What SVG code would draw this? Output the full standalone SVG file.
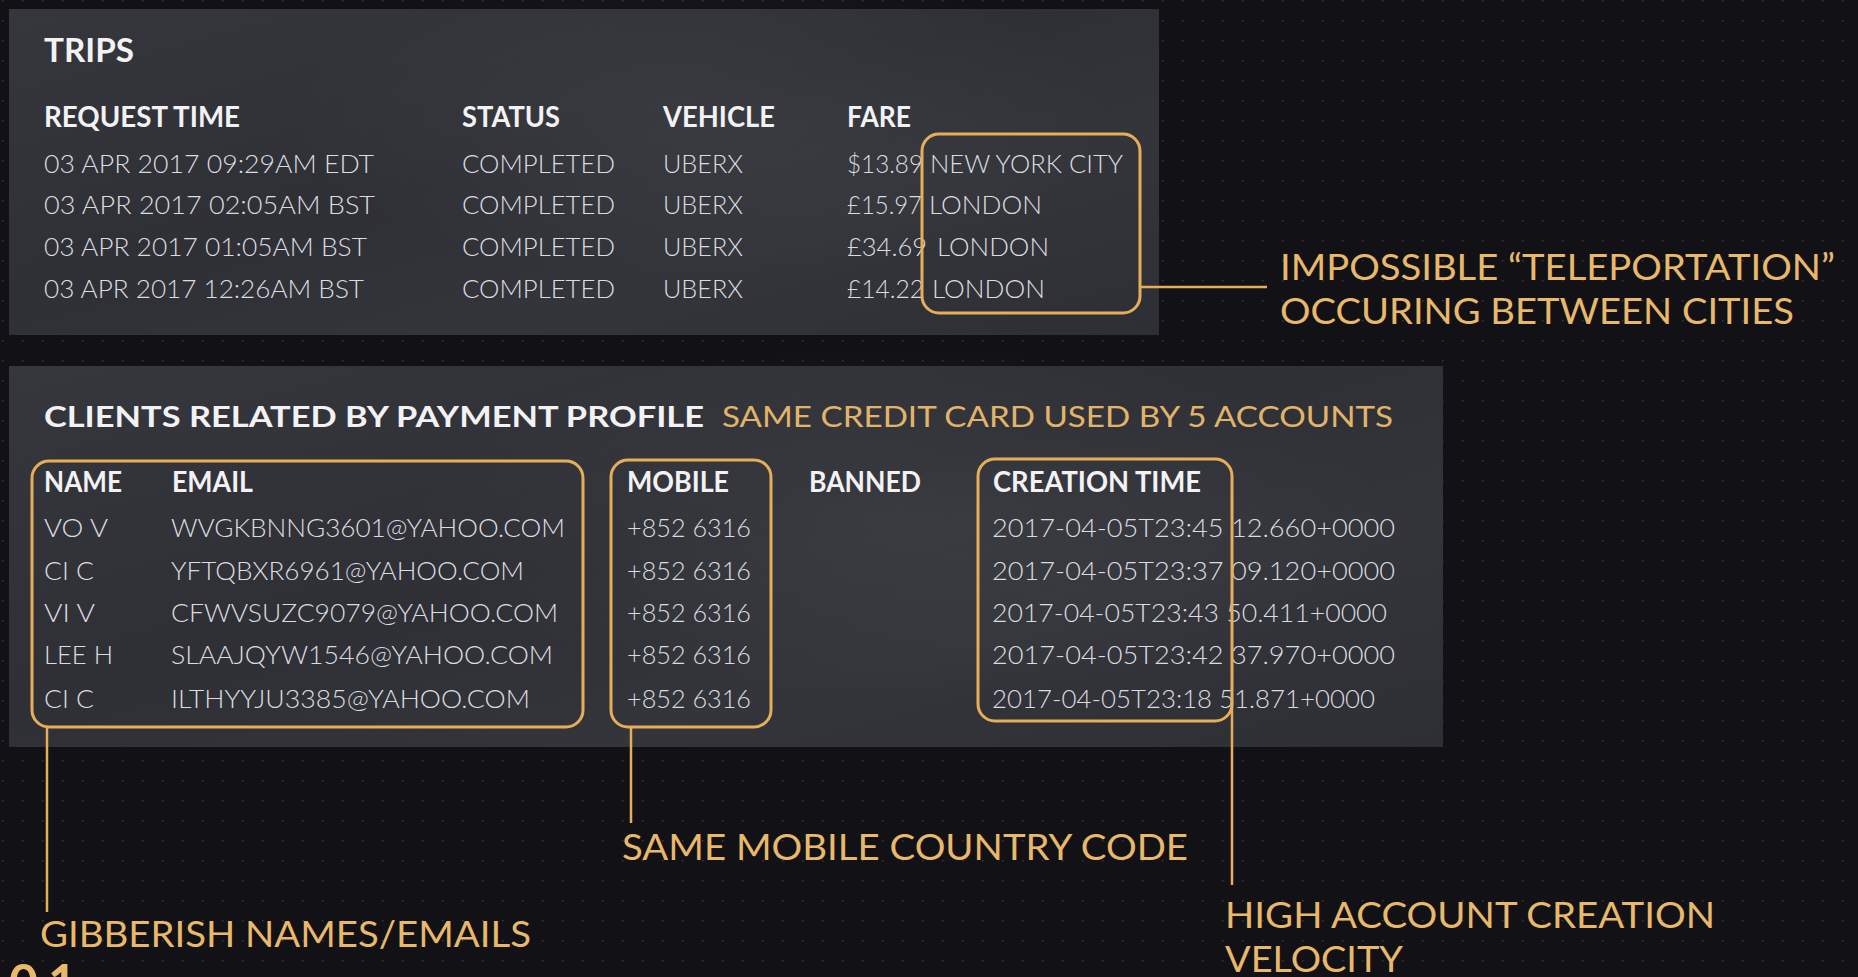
<svg xmlns="http://www.w3.org/2000/svg" width="1858" height="977" viewBox="0 0 1858 977">
<defs>
<pattern id="dots" x="2" y="0" width="20" height="20" patternUnits="userSpaceOnUse">
<rect x="0" y="0" width="1.4" height="1.4" fill="#3a3a44"/>
</pattern>
<linearGradient id="panelGrad" x1="0" y1="0" x2="1" y2="1">
<stop offset="0" stop-color="#36373d"/>
<stop offset="0.45" stop-color="#2f3036"/>
<stop offset="0.7" stop-color="#34353b"/>
<stop offset="1" stop-color="#2e2f34"/>
</linearGradient>
<radialGradient id="sheen" cx="0.5" cy="0.5" r="0.5">
<stop offset="0" stop-color="#ffffff" stop-opacity="0.05"/>
<stop offset="1" stop-color="#ffffff" stop-opacity="0"/>
</radialGradient>
<style>
.h{font-family:"Lato","Liberation Sans",sans-serif;font-weight:700;font-size:28px;fill:#f2f2f4}
.t{font-family:"Lato","Liberation Sans",sans-serif;font-weight:700;font-size:33px;fill:#f2f2f4}
.d{font-family:"Lato","Liberation Sans",sans-serif;font-weight:300;font-size:25px;fill:#dcdce0}
.a{font-family:"Lato","Liberation Sans",sans-serif;font-weight:400;font-size:37px;fill:#e8b86b}
.s{font-family:"Lato","Liberation Sans",sans-serif;font-weight:400;font-size:29px;fill:#e2b46a}
.n{font-family:"Lato","Liberation Sans",sans-serif;font-weight:700;font-size:50px;fill:#e8b86b}
.box{fill:none;stroke:#e6ae5a;stroke-width:3}
.ln{fill:none;stroke:#e6ae5a;stroke-width:2.5}
.panel{fill:url(#panelGrad)}
</style>
</defs>

<g id="background">
<rect x="0" y="0" width="1858" height="977" fill="#121216"/>
<rect x="0" y="0" width="1858" height="977" fill="url(#dots)"/>
</g>

<g id="trips-panel">
<rect class="panel" x="9" y="9" width="1150" height="326"/>
<ellipse cx="700" cy="120" rx="420" ry="160" fill="url(#sheen)"/>
<text class="t" x="44" y="62" textLength="90" lengthAdjust="spacingAndGlyphs">TRIPS</text>
<text class="h" x="44" y="127" textLength="196" lengthAdjust="spacingAndGlyphs">REQUEST TIME</text>
<text class="h" x="462" y="127" textLength="98" lengthAdjust="spacingAndGlyphs">STATUS</text>
<text class="h" x="663" y="127" textLength="112" lengthAdjust="spacingAndGlyphs">VEHICLE</text>
<text class="h" x="847" y="127" textLength="64" lengthAdjust="spacingAndGlyphs">FARE</text>

<text class="d" x="44" y="173" textLength="330" lengthAdjust="spacingAndGlyphs">03 APR 2017 09:29AM EDT</text>
<text class="d" x="44" y="214" textLength="331" lengthAdjust="spacingAndGlyphs">03 APR 2017 02:05AM BST</text>
<text class="d" x="44" y="256" textLength="323" lengthAdjust="spacingAndGlyphs">03 APR 2017 01:05AM BST</text>
<text class="d" x="44" y="298" textLength="320" lengthAdjust="spacingAndGlyphs">03 APR 2017 12:26AM BST</text>

<text class="d" x="462" y="173" textLength="153" lengthAdjust="spacingAndGlyphs">COMPLETED</text>
<text class="d" x="462" y="214" textLength="153" lengthAdjust="spacingAndGlyphs">COMPLETED</text>
<text class="d" x="462" y="256" textLength="153" lengthAdjust="spacingAndGlyphs">COMPLETED</text>
<text class="d" x="462" y="298" textLength="153" lengthAdjust="spacingAndGlyphs">COMPLETED</text>

<text class="d" x="663" y="173" textLength="80" lengthAdjust="spacingAndGlyphs">UBERX</text>
<text class="d" x="663" y="214" textLength="80" lengthAdjust="spacingAndGlyphs">UBERX</text>
<text class="d" x="663" y="256" textLength="80" lengthAdjust="spacingAndGlyphs">UBERX</text>
<text class="d" x="663" y="298" textLength="80" lengthAdjust="spacingAndGlyphs">UBERX</text>

<text class="d" x="847" y="173" textLength="76" lengthAdjust="spacingAndGlyphs">$13.89</text>
<text class="d" x="847" y="214" textLength="75" lengthAdjust="spacingAndGlyphs">£15.97</text>
<text class="d" x="847" y="256" textLength="80" lengthAdjust="spacingAndGlyphs">£34.69</text>
<text class="d" x="847" y="298" textLength="77" lengthAdjust="spacingAndGlyphs">£14.22</text>

<text class="d" x="930" y="173" textLength="193" lengthAdjust="spacingAndGlyphs">NEW YORK CITY</text>
<text class="d" x="929" y="214" textLength="113" lengthAdjust="spacingAndGlyphs">LONDON</text>
<text class="d" x="937" y="256" textLength="112" lengthAdjust="spacingAndGlyphs">LONDON</text>
<text class="d" x="932" y="298" textLength="113" lengthAdjust="spacingAndGlyphs">LONDON</text>
</g>

<g id="clients-panel">
<rect class="panel" x="9" y="366" width="1434" height="381"/>
<ellipse cx="900" cy="520" rx="500" ry="180" fill="url(#sheen)"/>
<text class="h" x="44" y="427" font-size="29" textLength="660" lengthAdjust="spacingAndGlyphs">CLIENTS RELATED BY PAYMENT PROFILE</text>
<text class="s" x="722" y="427" textLength="671" lengthAdjust="spacingAndGlyphs">SAME CREDIT CARD USED BY 5 ACCOUNTS</text>

<text class="h" x="44" y="492" textLength="78" lengthAdjust="spacingAndGlyphs">NAME</text>
<text class="h" x="172" y="492" textLength="81" lengthAdjust="spacingAndGlyphs">EMAIL</text>
<text class="h" x="627" y="492" textLength="102" lengthAdjust="spacingAndGlyphs">MOBILE</text>
<text class="h" x="809" y="492" textLength="112" lengthAdjust="spacingAndGlyphs">BANNED</text>
<text class="h" x="993" y="492" textLength="208" lengthAdjust="spacingAndGlyphs">CREATION TIME</text>

<text class="d" x="44" y="537" textLength="64" lengthAdjust="spacingAndGlyphs">VO V</text>
<text class="d" x="44" y="580" textLength="50" lengthAdjust="spacingAndGlyphs">CI C</text>
<text class="d" x="44" y="622" textLength="51" lengthAdjust="spacingAndGlyphs">VI V</text>
<text class="d" x="44" y="664" textLength="69" lengthAdjust="spacingAndGlyphs">LEE H</text>
<text class="d" x="44" y="708" textLength="50" lengthAdjust="spacingAndGlyphs">CI C</text>

<text class="d" x="171" y="537" textLength="394" lengthAdjust="spacingAndGlyphs">WVGKBNNG3601@YAHOO.COM</text>
<text class="d" x="171" y="580" textLength="353" lengthAdjust="spacingAndGlyphs">YFTQBXR6961@YAHOO.COM</text>
<text class="d" x="171" y="622" textLength="387" lengthAdjust="spacingAndGlyphs">CFWVSUZC9079@YAHOO.COM</text>
<text class="d" x="171" y="664" textLength="382" lengthAdjust="spacingAndGlyphs">SLAAJQYW1546@YAHOO.COM</text>
<text class="d" x="171" y="708" textLength="359" lengthAdjust="spacingAndGlyphs">ILTHYYJU3385@YAHOO.COM</text>

<text class="d" x="627" y="537" textLength="124" lengthAdjust="spacingAndGlyphs">+852 6316</text>
<text class="d" x="627" y="580" textLength="124" lengthAdjust="spacingAndGlyphs">+852 6316</text>
<text class="d" x="627" y="622" textLength="124" lengthAdjust="spacingAndGlyphs">+852 6316</text>
<text class="d" x="627" y="664" textLength="124" lengthAdjust="spacingAndGlyphs">+852 6316</text>
<text class="d" x="627" y="708" textLength="124" lengthAdjust="spacingAndGlyphs">+852 6316</text>

<text class="d" x="992" y="537" textLength="403" lengthAdjust="spacingAndGlyphs">2017-04-05T23:45 12.660+0000</text>
<text class="d" x="992" y="580" textLength="403" lengthAdjust="spacingAndGlyphs">2017-04-05T23:37 09.120+0000</text>
<text class="d" x="992" y="622" textLength="395" lengthAdjust="spacingAndGlyphs">2017-04-05T23:43 50.411+0000</text>
<text class="d" x="992" y="664" textLength="403" lengthAdjust="spacingAndGlyphs">2017-04-05T23:42 37.970+0000</text>
<text class="d" x="992" y="708" textLength="383" lengthAdjust="spacingAndGlyphs">2017-04-05T23:18 51.871+0000</text>
</g>

<g id="box-locations">
<rect class="box" x="922" y="134" width="218" height="179" rx="17"/>
</g>
<g id="box-names-emails">
<rect class="box" x="32" y="461" width="551" height="266" rx="17"/>
</g>
<g id="box-mobile">
<rect class="box" x="611" y="460" width="160" height="267" rx="17"/>
</g>
<g id="box-creation">
<rect class="box" x="978" y="459" width="254" height="262" rx="17"/>
</g>

<g id="connectors">
<line class="ln" x1="1140" y1="287" x2="1267" y2="287"/>
<line class="ln" x1="47" y1="727" x2="47" y2="912"/>
<line class="ln" x1="631" y1="727" x2="631" y2="823"/>
<line class="ln" x1="1232" y1="700" x2="1232" y2="885"/>
</g>

<g id="label-teleportation">
<text class="a" x="1280" y="280" textLength="555" lengthAdjust="spacingAndGlyphs">IMPOSSIBLE “TELEPORTATION”</text>
<text class="a" x="1280" y="324" textLength="514" lengthAdjust="spacingAndGlyphs">OCCURING BETWEEN CITIES</text>
</g>
<g id="label-gibberish">
<text class="a" x="40" y="947" textLength="491" lengthAdjust="spacingAndGlyphs">GIBBERISH NAMES/EMAILS</text>
</g>
<g id="label-mobile">
<text class="a" x="622" y="860" textLength="566" lengthAdjust="spacingAndGlyphs">SAME MOBILE COUNTRY CODE</text>
</g>
<g id="label-velocity">
<text class="a" x="1225" y="928" textLength="490" lengthAdjust="spacingAndGlyphs">HIGH ACCOUNT CREATION</text>
<text class="a" x="1225" y="972" textLength="178" lengthAdjust="spacingAndGlyphs">VELOCITY</text>
</g>
<g id="page-number">
<text class="n" x="9" y="1000" letter-spacing="10">01</text>
</g>
</svg>
